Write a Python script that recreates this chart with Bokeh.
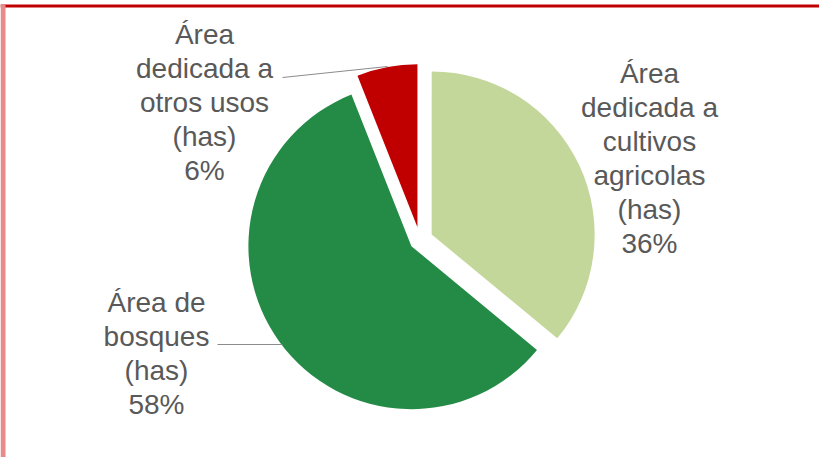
import math
from bokeh.plotting import figure
from bokeh.models import Range1d, ColumnDataSource
from bokeh.core.properties import value
from bokeh.embed import file_html
from bokeh.resources import INLINE

# ---- data ----
categories = ["Área dedicada a cultivos agricolas (has)",
              "Área de bosques (has)",
              "Área dedicada a otros usos (has)"]
shares = [36, 58, 6]
label_texts = ["Área\ndedicada a\ncultivos\nagricolas\n(has)\n36%",
               "Área de\nbosques\n(has)\n58%",
               "Área\ndedicada a\notros usos\n(has)\n6%"]
colors = ["#c4d79b", "#248b47", "#c00000"]

# ---- layout ----
W, H = 819, 457
CX, CY, R = 419.4, 217.5, 163
explode = [13, 10.5, 13]
label_pos = [(649, 299), (156, 104), (204, 355)]

p = figure(width=W, height=H, output_backend="svg", toolbar_location=None,
           x_range=Range1d(0, W), y_range=Range1d(0, H), min_border=0)
p.axis.visible = False
p.grid.visible = False
p.outline_line_color = None
p.background_fill_color = "white"
p.border_fill_color = "white"

total = float(sum(shares))
starts, ends, xs, ys = [], [], [], []
cum = 0.0
for v, d in zip(shares, explode):
    a0 = math.pi / 2 - 2 * math.pi * cum / total
    a1 = math.pi / 2 - 2 * math.pi * (cum + v) / total
    mid = (a0 + a1) / 2
    starts.append(a0)
    ends.append(a1)
    xs.append(CX + d * math.cos(mid))
    ys.append(CY + d * math.sin(mid))
    cum += v

src = ColumnDataSource(dict(x=xs, y=ys, start=starts, end=ends, color=colors, cat=categories))
p.wedge(x="x", y="y", radius=R, start_angle="start", end_angle="end",
        direction="clock", fill_color="color", line_color=None, source=src)

# leader lines
p.line([282, 387], [380, 391], line_color="#8c8c8c", line_width=1.2)
p.line([217, 282], [113, 113], line_color="#8c8c8c", line_width=1.2)

# labels
lsrc = ColumnDataSource(dict(x=[q[0] for q in label_pos], y=[q[1] for q in label_pos], t=label_texts))
p.text(x="x", y="y", text="t", source=lsrc, text_align="center", text_baseline="middle",
       text_font=value("Liberation Sans"), text_font_size="28px", text_color="#595959",
       text_line_height=1.1)

# frame lines
p.line([0, W + 10], [451.5, 451.5], line_color="#c00000", line_width=3)
p.line([2.5, 2.5], [-10, 453], line_color="#e88a8a", line_width=5)

open("out.html", "w").write(file_html(p, INLINE))
